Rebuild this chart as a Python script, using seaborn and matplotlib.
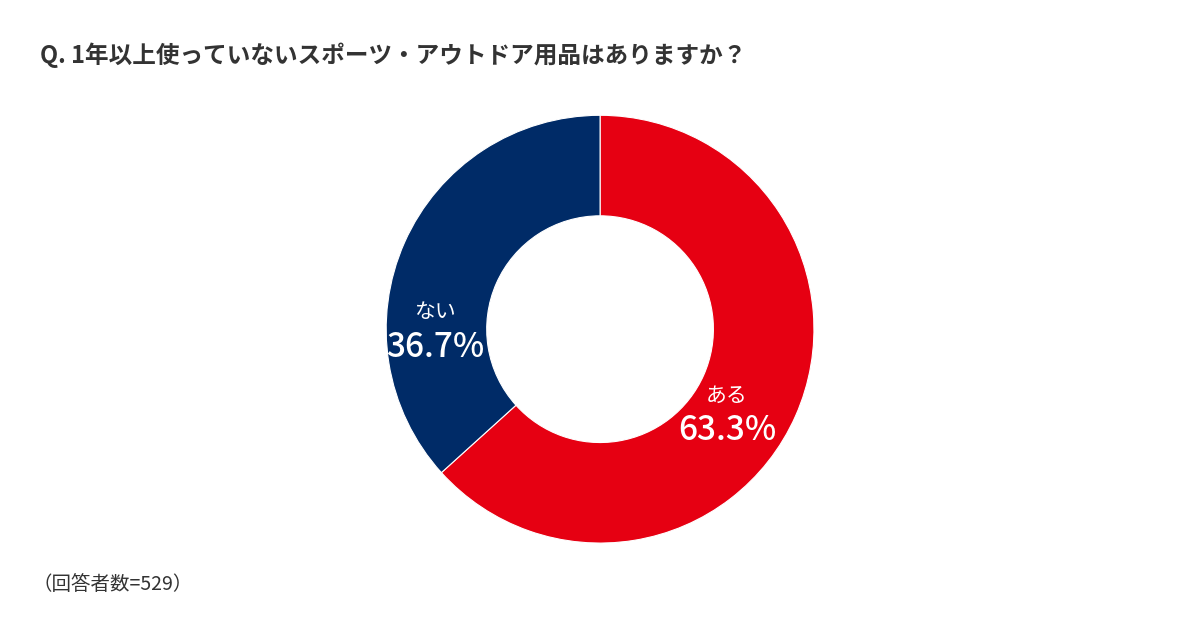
import matplotlib.pyplot as plt
import seaborn as sns

# survey answers
answers = ["ある", "ない"]
shares = [63.3, 36.7]
colors = ["#E60012", "#002B67"]
title = "Q. 1年以上使っていないスポーツ・アウトドア用品はありますか？"
note = "（回答者数=529）"

sns.set_theme(style="white")
plt.rcParams['font.family'] = ['Noto Sans CJK JP', 'DejaVu Sans']

fig = plt.figure(figsize=(12, 6.3), dpi=100)
fig.patch.set_facecolor("white")

# donut axes, placed so the ring sits at the centre of the canvas
ax = fig.add_axes([0.3217, 0.138, 0.3567, 0.679])
wedges, _ = ax.pie(
    shares, colors=colors, startangle=90, counterclock=False,
    radius=1, wedgeprops=dict(width=0.47, edgecolor="white", linewidth=0.8),
)
ax.set_xlim(-1, 1)
ax.set_ylim(-1, 1)
ax.set_aspect("equal")
ax.axis("off")

# label spots inside the ring (name on top, percent below)
label_pos = [(0.593, -0.31), (-0.771, 0.08)]
for name, val, (lx, ly) in zip(answers, shares, label_pos):
    ax.text(lx, ly, name, ha="center", va="center", color="white",
            fontsize=15)
    ax.text(lx, ly - 0.165, f"{val:.1f}%", ha="center", va="center",
            color="white", fontsize=24, fontweight="medium")

fig.text(40 / 1200, 1 - 55 / 630, title, ha="left", va="center",
         fontsize=17, fontweight="bold", color="#333333")
fig.text(33 / 1200, 1 - 585 / 630, note, ha="left", va="center",
         fontsize=14, color="#333333")

fig.savefig("out.png", dpi=100, facecolor="white")
